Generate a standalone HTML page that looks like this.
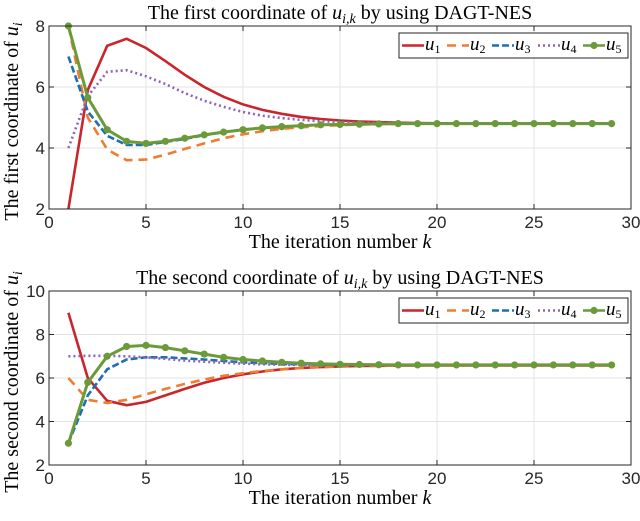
<!DOCTYPE html>
<html><head><meta charset="utf-8"><style>
html,body{margin:0;padding:0;background:#fff;}
svg{display:block;}
.tick{font-family:"Liberation Sans",sans-serif;font-size:17px;fill:#262626;}
.ser{font-family:"Liberation Serif",serif;font-size:20px;fill:#000;}
.leg{font-family:"Liberation Serif",serif;font-size:19px;fill:#000;}
</style></head><body>
<svg id="chart" width="640" height="521" viewBox="0 0 640 521" xmlns="http://www.w3.org/2000/svg"></svg>
<script>
const iterations = Array.from({length:29},(_, i)=>i+1);
const xTicks = [0,5,10,15,20,25,30];
const yTicksTop = [2,4,6,8];
const yTicksBot = [2,4,6,8,10];
const top_u1 = [2,5.9,7.35,7.58,7.28,6.85,6.4,6.0,5.68,5.43,5.25,5.12,5.02,4.95,4.9,4.87,4.85,4.83,4.82,4.81,4.8,4.8,4.8,4.8,4.8,4.8,4.8,4.8,4.8];
const top_u2 = [8,5.0,3.95,3.6,3.62,3.78,3.97,4.15,4.32,4.45,4.55,4.63,4.68,4.72,4.75,4.77,4.78,4.79,4.8,4.8,4.8,4.8,4.8,4.8,4.8,4.8,4.8,4.8,4.8];
const top_u3 = [7,5.2,4.4,4.1,4.1,4.2,4.3,4.42,4.52,4.6,4.66,4.7,4.73,4.76,4.77,4.78,4.79,4.8,4.8,4.8,4.8,4.8,4.8,4.8,4.8,4.8,4.8,4.8,4.8];
const top_u4 = [4,5.7,6.5,6.55,6.35,6.1,5.8,5.55,5.35,5.18,5.06,4.98,4.92,4.88,4.85,4.83,4.82,4.81,4.8,4.8,4.8,4.8,4.8,4.8,4.8,4.8,4.8,4.8,4.8];
const top_u5 = [8,5.65,4.6,4.22,4.15,4.22,4.32,4.43,4.52,4.6,4.66,4.7,4.73,4.76,4.77,4.78,4.79,4.8,4.8,4.8,4.8,4.8,4.8,4.8,4.8,4.8,4.8,4.8,4.8];
const bot_u1 = [9,6,4.95,4.75,4.9,5.2,5.5,5.78,6.0,6.17,6.3,6.4,6.46,6.5,6.53,6.55,6.56,6.57,6.58,6.58,6.58,6.58,6.58,6.58,6.58,6.58,6.58,6.58,6.58];
const bot_u2 = [6,5.0,4.85,5.0,5.25,5.5,5.73,5.93,6.1,6.22,6.32,6.4,6.46,6.5,6.53,6.55,6.56,6.57,6.58,6.58,6.58,6.58,6.58,6.58,6.58,6.58,6.58,6.58,6.58];
const bot_u3 = [3,5.2,6.4,6.85,6.95,6.95,6.9,6.85,6.78,6.72,6.68,6.65,6.63,6.61,6.6,6.6,6.6,6.6,6.6,6.6,6.6,6.6,6.6,6.6,6.6,6.6,6.6,6.6,6.6];
const bot_u4 = [7,7.02,7.02,7.0,6.95,6.88,6.8,6.75,6.7,6.66,6.63,6.61,6.6,6.6,6.6,6.6,6.6,6.6,6.6,6.6,6.6,6.6,6.6,6.6,6.6,6.6,6.6,6.6,6.6];
const bot_u5 = [3,5.8,7.0,7.45,7.5,7.4,7.25,7.1,6.95,6.85,6.78,6.72,6.68,6.65,6.63,6.62,6.61,6.6,6.6,6.6,6.6,6.6,6.6,6.6,6.6,6.6,6.6,6.6,6.6];

const NS="http://www.w3.org/2000/svg";
const svg=document.getElementById('chart');
function mk(tag,attrs,parent){const e=document.createElementNS(NS,tag);for(const k in attrs)e.setAttribute(k,attrs[k]);(parent||svg).appendChild(e);return e;}
const colors=['#c8262d','#ee7d32','#1f6fb0','#8e63b8','#6b9a3a'];
const dashes=['', '9,6', '7,3', '2,3', ''];

function panel(name,top,bottom,ymin,ymax,yTicks,series,title,ylab){
  const L=49,R=631;
  const g=mk('g',{});
  
  
  const xs=v=>L+(v-0)/(30-0)*(R-L);
  const ys=v=>bottom-(v-ymin)/(ymax-ymin)*(bottom-top);
  mk('rect',{x:L,y:top,width:R-L,height:bottom-top,fill:'#fff'},g);
  xTicks.forEach(t=>{
    mk('line',{x1:xs(t),x2:xs(t),y1:top,y2:bottom,stroke:'#e3e3e3','stroke-width':1},g);
    mk('line',{x1:xs(t),x2:xs(t),y1:bottom,y2:bottom-5,stroke:'#262626'},g);
    mk('line',{x1:xs(t),x2:xs(t),y1:top,y2:top+5,stroke:'#262626'},g);
    const tx=mk('text',{x:xs(t),y:bottom+19,'text-anchor':'middle',class:'tick'},g);tx.textContent=t;
    
    
  });
  yTicks.forEach(t=>{
    mk('line',{x1:L,x2:R,y1:ys(t),y2:ys(t),stroke:'#e3e3e3'},g);
    mk('line',{x1:L,x2:L+5,y1:ys(t),y2:ys(t),stroke:'#262626'},g);
    mk('line',{x1:R,x2:R-5,y1:ys(t),y2:ys(t),stroke:'#262626'},g);
    const tx=mk('text',{x:L-4,y:ys(t)+6,'text-anchor':'end',class:'tick'},g);tx.textContent=t;
    
    
  });
  const clip=name+'-clip';
  const cp=mk('clipPath',{id:clip},g);mk('rect',{x:L,y:top,width:R-L,height:bottom-top},cp);
  series.forEach((s,i)=>{
    const d=s.map((v,j)=>(j?'L':'M')+xs(iterations[j]).toFixed(1)+','+ys(v).toFixed(1)).join('');
    const p=mk('path',{d:d,fill:'none',stroke:colors[i],'stroke-width':i==4?3:2.6,'stroke-dasharray':dashes[i],'clip-path':'url(#'+clip+')'},g);
    
    
    if(i==4){s.forEach((v,j)=>{const c=mk('circle',{cx:xs(iterations[j]),cy:ys(v),r:3.6,fill:colors[4]},g);
      
      });}
  });
  mk('rect',{x:L,y:top,width:R-L,height:bottom-top,fill:'none',stroke:'#262626','stroke-width':1},g);
  const lg=mk('g',{},g);
  
  
  const lx=399,ly=top+7;
  mk('rect',{x:lx,y:ly,width:229,height:25,fill:'#fff',stroke:'#262626'},lg);
  const offs=[0,45,90,136,181];
  for(let i=0;i<5;i++){
    const x0=lx+3+offs[i];
    mk('line',{x1:x0,x2:x0+22,y1:ly+12.5,y2:ly+12.5,stroke:colors[i],'stroke-width':2.6,'stroke-dasharray':dashes[i]},lg);
    if(i==4)mk('circle',{cx:x0+11,cy:ly+12.5,r:3.6,fill:colors[4]},lg);
    const t=mk('text',{x:x0+23,y:ly+17,class:'leg','font-style':'italic'},lg);
    t.innerHTML='u<tspan font-size="12" font-style="normal" dy="3">'+(i+1)+'</tspan>';
    
    
  }
  const tt=mk('text',{x:(L+R)/2,y:top-7,'text-anchor':'middle',class:'ser'},g);
  tt.innerHTML=title+' <tspan font-style="italic">u</tspan><tspan font-style="italic" font-size="14" dy="4">i,k</tspan><tspan dy="-4"> by using DAGT-NES</tspan>';
  
  
  const xl=mk('text',{x:(L+R)/2,y:bottom+39,'text-anchor':'middle',class:'ser'},g);
  xl.innerHTML='The iteration number <tspan font-style="italic">k</tspan>';
  
  
  const cy=(top+bottom)/2+4;
  const yl=mk('text',{x:0,y:0,'text-anchor':'middle',class:'ser',transform:'translate(18,'+cy+') rotate(-90)'},g);
  yl.innerHTML=ylab+' <tspan font-style="italic">u</tspan><tspan font-style="italic" font-size="14" dy="4">i</tspan>';
  
  
}
panel('top-panel',26,209,2,8,yTicksTop,[top_u1,top_u2,top_u3,top_u4,top_u5],'The first coordinate of','The first coordinate of');
panel('bottom-panel',291,465,2,10,yTicksBot,[bot_u1,bot_u2,bot_u3,bot_u4,bot_u5],'The second coordinate of','The second coordinate of');
</script>
</body></html>
